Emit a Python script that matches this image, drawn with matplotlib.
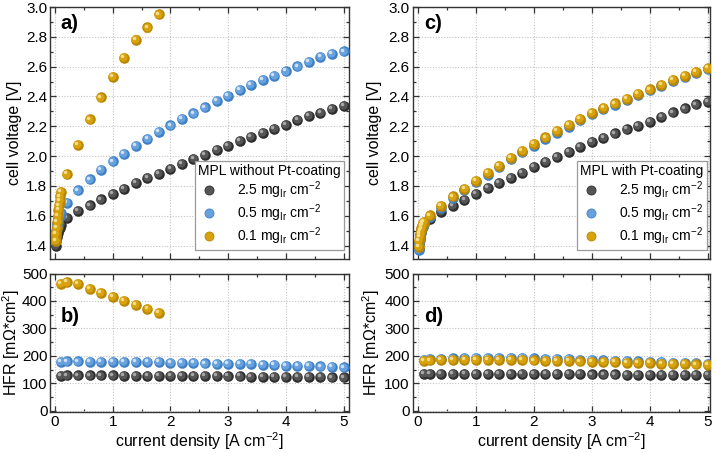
import matplotlib
matplotlib.use("Agg")
import matplotlib.pyplot as plt
from matplotlib.transforms import ScaledTranslation
from matplotlib.lines import Line2D

plt.rcParams['font.family'] = ['Liberation Sans', 'DejaVu Sans']
plt.rcParams['mathtext.fontset'] = 'custom'
plt.rcParams['mathtext.rm'] = 'Liberation Sans'
plt.rcParams['mathtext.it'] = 'Liberation Sans:italic'
plt.rcParams['mathtext.bf'] = 'Liberation Sans:bold'

# ---------------- data ----------------
x_low = [0.01, 0.02, 0.03, 0.04, 0.05, 0.06, 0.07, 0.08, 0.09, 0.1]
x_high = [0.2, 0.4, 0.6, 0.8, 1.0, 1.2, 1.4, 1.6, 1.8, 2.0, 2.2, 2.4, 2.6,
          2.8, 3.0, 3.2, 3.4, 3.6, 3.8, 4.0, 4.2, 4.4, 4.6, 4.8, 5.0]
x_hfr = [0.1, 0.2, 0.4, 0.6, 0.8, 1.0, 1.2, 1.4, 1.6, 1.8, 2.0, 2.2, 2.4, 2.6,
         2.8, 3.0, 3.2, 3.4, 3.6, 3.8, 4.0, 4.2, 4.4, 4.6, 4.8, 5.0]

# panel a (without Pt-coating)
a_black_low = [1.40, 1.43, 1.455, 1.47, 1.485, 1.50, 1.51, 1.52, 1.53, 1.54]
a_blue_low = [1.46, 1.50, 1.525, 1.545, 1.56, 1.575, 1.59, 1.60, 1.61, 1.62]
a_gold_low = [1.43, 1.48, 1.52, 1.56, 1.60, 1.64, 1.67, 1.70, 1.73, 1.76]
a_black = [1.586, 1.631, 1.669, 1.710, 1.745, 1.781, 1.820, 1.853, 1.882, 1.916,
           1.950, 1.981, 2.010, 2.042, 2.071, 2.100, 2.129, 2.156, 2.185, 2.212,
           2.241, 2.268, 2.291, 2.316, 2.338]
a_blue = [1.685, 1.770, 1.844, 1.909, 1.965, 2.017, 2.069, 2.118, 2.161, 2.206,
          2.250, 2.286, 2.327, 2.369, 2.405, 2.443, 2.477, 2.511, 2.540, 2.569,
          2.601, 2.632, 2.663, 2.688, 2.702]
a_gold_x = [0.2, 0.4, 0.6, 0.8, 1.0, 1.2, 1.4, 1.6, 1.8]
a_gold = [1.878, 2.075, 2.246, 2.394, 2.529, 2.661, 2.780, 2.863, 2.951]
a_gold_err = [0.015, 0.02, 0.02, 0.025, 0.02, 0.025, 0.03, 0.03, 0.015]

# panel b (HFR without Pt-coating)
b_gold_x = [0.1, 0.2, 0.4, 0.6, 0.8, 1.0, 1.2, 1.4, 1.6, 1.8]
b_gold = [463, 468, 461, 445, 429, 414, 399, 386, 370, 356]
b_blue = [179, 180, 180, 179, 179, 178, 178, 178, 177, 177, 176, 175, 174, 173,
          172, 171, 171, 170, 168, 167, 165, 164, 163, 162, 161, 158]
b_black = [128, 129, 129, 129, 129, 129, 128, 128, 128, 128, 128, 128, 127, 127,
           127, 126, 126, 125, 125, 125, 124, 124, 123, 123, 122, 122]

# panel c (with Pt-coating)
c_black_low = [1.38, 1.42, 1.45, 1.47, 1.49, 1.505, 1.52, 1.53, 1.54, 1.55]
c_blue_low = [1.37, 1.41, 1.44, 1.465, 1.485, 1.50, 1.515, 1.525, 1.535, 1.545]
c_gold_low = [1.39, 1.43, 1.46, 1.48, 1.50, 1.515, 1.53, 1.54, 1.55, 1.56]
c_black = [1.580, 1.624, 1.667, 1.707, 1.748, 1.788, 1.822, 1.856, 1.889, 1.927,
           1.961, 1.995, 2.028, 2.062, 2.093, 2.123, 2.152, 2.180, 2.205, 2.230,
           2.264, 2.293, 2.320, 2.347, 2.365]
c_blue = [1.592, 1.655, 1.720, 1.772, 1.825, 1.875, 1.925, 1.978, 2.025, 2.070,
          2.115, 2.158, 2.198, 2.240, 2.280, 2.314, 2.346, 2.376, 2.410, 2.441,
          2.472, 2.502, 2.531, 2.560, 2.582]
c_gold = [1.602, 1.665, 1.730, 1.782, 1.835, 1.885, 1.934, 1.988, 2.035, 2.080,
          2.125, 2.167, 2.208, 2.248, 2.289, 2.322, 2.354, 2.383, 2.417, 2.448,
          2.479, 2.509, 2.538, 2.567, 2.589]

# panel d (HFR with Pt-coating)
d_gold = [181, 184, 185, 185, 186, 186, 186, 186, 185, 185, 184, 183, 182, 181,
          180, 179, 178, 177, 176, 175, 174, 172, 171, 170, 169, 167]
d_blue = [186, 189, 190, 191, 192, 193, 193, 193, 193, 192, 191, 190, 189, 188,
          186, 185, 184, 182, 181, 180, 178, 177, 176, 175, 174, 172]
d_black = [135, 136, 136, 136, 136, 136, 135, 135, 135, 135, 135, 134, 134, 134,
           134, 133, 133, 133, 132, 132, 131, 131, 131, 130, 130, 130]

labels = [r"2.5 mg$_{\rm Ir}$ cm$^{-2}$", r"0.5 mg$_{\rm Ir}$ cm$^{-2}$",
          r"0.1 mg$_{\rm Ir}$ cm$^{-2}$"]

# ---------------- style ----------------
COL = {
    'black': ('#2e2e2e', '#555555', '#a8a8a8'),
    'blue': ('#3f7fc4', '#68a2de', '#cfe2f6'),
    'gold': ('#b88700', '#d8a20c', '#f6dd8c'),
}
MS = 7.6

fig = plt.figure(figsize=(7.15, 4.53), dpi=100)
W, H = 715.0, 453.0


def make_ax(l, r, t, b):
    return fig.add_axes([l / W, 1 - b / H, (r - l) / W, (b - t) / H])


ax_a = make_ax(49.5, 349.3, 7, 259)
ax_b = make_ax(49.5, 349.3, 273.5, 412)
ax_c = make_ax(413, 710, 7, 259)
ax_d = make_ax(413, 710, 273.5, 412)


def spheres(ax, x, y, key, z=3):
    dark, mid, light = COL[key]
    ax.plot(x, y, 'o', ms=MS, mfc=dark, mec='none', zorder=z)
    off1 = ax.transData + ScaledTranslation(-0.55 / 72, 0.55 / 72, fig.dpi_scale_trans)
    ax.plot(x, y, 'o', ms=MS * 0.78, mfc=mid, mec='none', zorder=z, transform=off1)
    off2 = ax.transData + ScaledTranslation(-1.3 / 72, 1.3 / 72, fig.dpi_scale_trans)
    ax.plot(x, y, 'o', ms=MS * 0.33, mfc=light, mec='none', zorder=z, transform=off2)


def style(ax, xlim, ylim, ymaj, ymin, xlabels, ylabel, ylab_x, ypad):
    ax.set_xlim(*xlim)
    ax.set_ylim(*ylim)
    ax.set_xticks([0, 1, 2, 3, 4, 5])
    ax.set_xticks([0.5, 1.5, 2.5, 3.5, 4.5], minor=True)
    ax.set_yticks(ymaj)
    ax.set_yticks(ymin, minor=True)
    ax.grid(True, which='major', linestyle=(0, (1, 1.5)), color='#c4c4c4', linewidth=0.8, zorder=0)
    ax.set_axisbelow(True)
    ax.tick_params(which='both', direction='in', top=True, right=True, colors='#333333',
                   labelcolor='black', labelsize=11, width=0.9)
    ax.tick_params(axis='y', which='both', pad=ypad)
    ax.tick_params(axis='x', which='both', pad=2.5)
    ax.tick_params(which='major', length=4.5)
    ax.tick_params(which='minor', length=2.5)
    for s in ax.spines.values():
        s.set_color('#333333')
        s.set_linewidth(1.0)
    if not xlabels:
        ax.tick_params(labelbottom=False)
    else:
        ax.set_xlabel(r"current density [A cm$^{-2}$]", fontsize=11.5, labelpad=0.5)
    ax.set_ylabel(ylabel, fontsize=11.5)
    ax.yaxis.set_label_coords(ylab_x, 0.5)


vmaj = [1.4, 1.6, 1.8, 2.0, 2.2, 2.4, 2.6, 2.8, 3.0]
vmin = [1.5, 1.7, 1.9, 2.1, 2.3, 2.5, 2.7, 2.9]
hmaj = [0, 100, 200, 300, 400, 500]
hmin = [50, 150, 250, 350, 450]

# panel a
style(ax_a, (-0.095, 5.10), (1.31, 3.0), vmaj, vmin, False, "cell voltage [V]", -0.093, 1.5)
ax_a.errorbar(a_gold_x, a_gold, yerr=a_gold_err, fmt='none', ecolor='#e8c870',
              elinewidth=0.9, capsize=2.5, capthick=0.9, zorder=2)
spheres(ax_a, x_low, a_black_low, 'black')
spheres(ax_a, x_high, a_black, 'black')
spheres(ax_a, x_low, a_blue_low, 'blue')
spheres(ax_a, x_high, a_blue, 'blue')
spheres(ax_a, x_low, a_gold_low, 'gold')
spheres(ax_a, a_gold_x, a_gold, 'gold')

# panel b
style(ax_b, (-0.095, 5.10), (-4, 500), hmaj, hmin, True, r"HFR [m$\Omega$*cm$^{2}$]", -0.093, 1.5)
spheres(ax_b, x_hfr, b_black, 'black')
spheres(ax_b, x_hfr, b_blue, 'blue')
spheres(ax_b, b_gold_x, b_gold, 'gold')

# panel c
style(ax_c, (-0.086, 5.04), (1.31, 3.0), vmaj, vmin, False, "cell voltage [V]", -0.105, 2.3)
spheres(ax_c, x_low, c_black_low, 'black')
spheres(ax_c, x_high, c_black, 'black')
spheres(ax_c, x_low, c_blue_low, 'blue')
spheres(ax_c, x_high, c_blue, 'blue')
spheres(ax_c, x_low, c_gold_low, 'gold')
spheres(ax_c, x_high, c_gold, 'gold')

# panel d
style(ax_d, (-0.086, 5.04), (-4, 500), hmaj, hmin, True, r"HFR [m$\Omega$*cm$^{2}$]", -0.105, 2.3)
spheres(ax_d, x_hfr, d_black, 'black')
spheres(ax_d, x_hfr, d_blue, 'blue')
spheres(ax_d, x_hfr, d_gold, 'gold')

# panel letters
for ax, t, y in [(ax_a, 'a)', 0.935), (ax_b, 'b)', 0.69), (ax_c, 'c)', 0.935), (ax_d, 'd)', 0.69)]:
    ax.text(0.037, y, t, transform=ax.transAxes, fontsize=14.5, fontweight='bold',
            va='center', ha='left')

# legends
handles = [Line2D([], [], ls='none', marker='o', ms=6.5, mfc=COL[k][1], mec=COL[k][0], mew=0.6)
           for k in ['black', 'blue', 'gold']]
for ax, title, bx in [(ax_a, "MPL without Pt-coating", 0.983), (ax_c, "MPL with Pt-coating", 0.99)]:
    leg = ax.legend(handles, labels, title=title, loc='lower right', bbox_to_anchor=(bx, 0.034),
                    borderaxespad=0, fontsize=10, title_fontsize=10, frameon=True,
                    fancybox=False, edgecolor='#9a9a9a', framealpha=1, borderpad=0.25,
                    labelspacing=0.1, handletextpad=1.2, handlelength=1.6,
                    alignment='left')
    leg.get_frame().set_linewidth(0.9)
    leg.set_zorder(10)

fig.savefig("out.png", dpi=100)
